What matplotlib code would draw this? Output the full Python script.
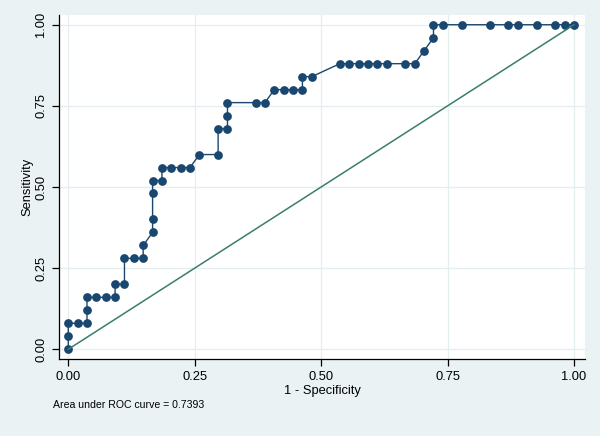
import matplotlib
matplotlib.use("Agg")
import matplotlib.pyplot as plt

# ROC points (1 - specificity, sensitivity)
one_minus_spec = [0, 0, 0, .0185, .037, .037, .037, .0556, .0741, .0926,
                  .0926, .1111, .1111, .1296, .1481, .1481, .1667, .1667, .1667, .1667,
                  .1852, .1852, .2037, .2222, .2407, .2593, .2963, .2963, .3148, .3148,
                  .3148, .3704, .3889, .4074, .4259, .4444, .463, .463, .4815, .537,
                  .5556, .5741, .5926, .6111, .6296, .6667, .6852, .7037, .7222, .7222,
                  .7407, .7778, .8333, .8704, .8889, .9259, .963, .9815, 1]
sensitivity = [0, .04, .08, .08, .08, .12, .16, .16, .16, .16,
               .20, .20, .28, .28, .28, .32, .36, .40, .48, .52,
               .52, .56, .56, .56, .56, .60, .60, .68, .68, .72,
               .76, .76, .76, .80, .80, .80, .80, .84, .84, .88,
               .88, .88, .88, .88, .88, .88, .88, .92, .96, 1,
               1, 1, 1, 1, 1, 1, 1, 1, 1]
ref_line = [0, 1]
ticks = [0, .25, .5, .75, 1]
tick_labels = ["0.00", "0.25", "0.50", "0.75", "1.00"]
auc_note = "Area under ROC curve = 0.7393"

plt.rcParams['font.family'] = ['Liberation Sans', 'DejaVu Sans']

bg = "#eaf2f3"
fig = plt.figure(figsize=(6, 4.36), dpi=100, facecolor=bg)
ax = fig.add_axes([0.0983, 0.176, 0.8767, 0.7896])
ax.set_facecolor("white")

ax.plot(one_minus_spec, sensitivity, color="#1a476f", lw=1.0,
        marker="o", markersize=6.3, markeredgewidth=0, zorder=3)
ax.plot(ref_line, ref_line, color="#3a7d6c", lw=1.1, zorder=4)

ax.set_xlim(-0.0184, 1.0218)
ax.set_ylim(-0.0308, 1.030)
ax.set_xticks(ticks)
ax.set_xticklabels(tick_labels)
ax.set_yticks(ticks)
ax.set_yticklabels(tick_labels, rotation=90, va="center")

ax.grid(True, color="#e4eef0", lw=0.9, zorder=0)
ax.set_axisbelow(True)
for side in ["top", "right"]:
    ax.spines[side].set_visible(False)
for side in ["left", "bottom"]:
    ax.spines[side].set_color("black")
    ax.spines[side].set_linewidth(0.9)
ax.tick_params(direction="out", length=5, width=0.9, labelsize=9.3, pad=3.5)

ax.set_xlabel("1 - Specificity", fontsize=9.3, labelpad=1.5)
ax.set_ylabel("Sensitivity", fontsize=9.3, labelpad=1)

fig.text(53 / 600, 1 - 405 / 436, auc_note, fontsize=7.6, va="center", ha="left")

fig.savefig("out.png", dpi=100, facecolor=bg)
